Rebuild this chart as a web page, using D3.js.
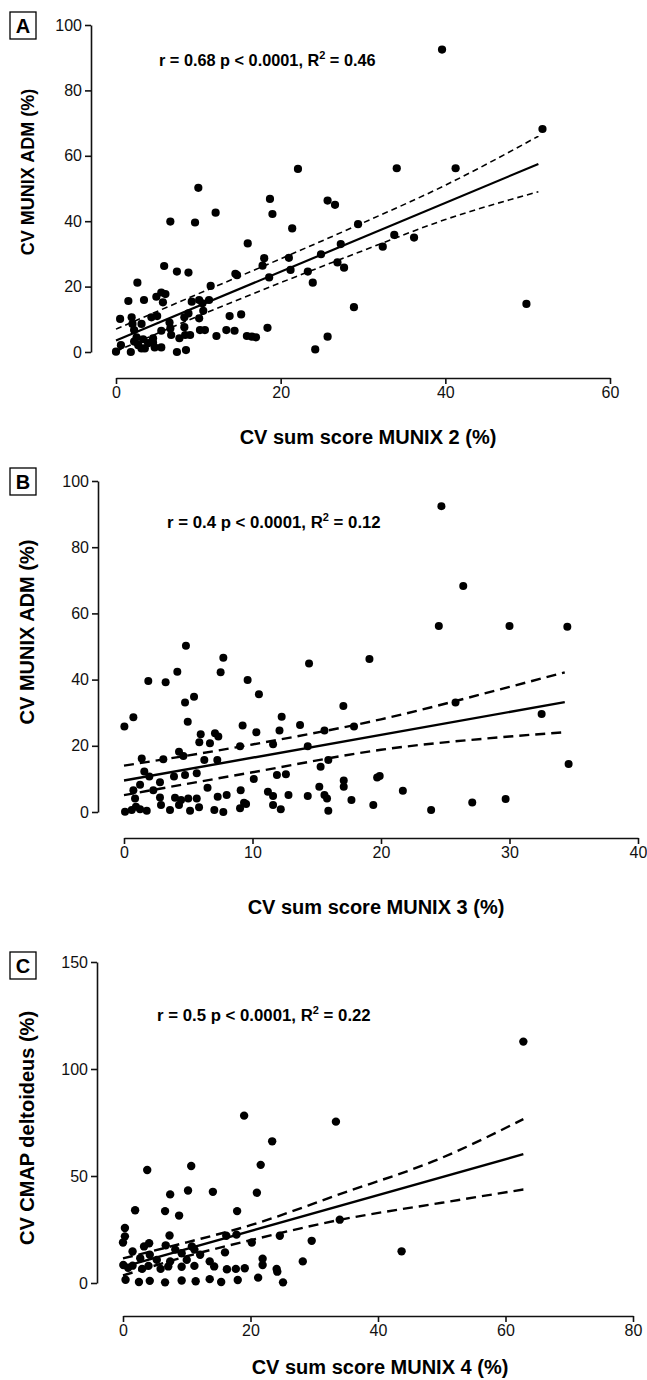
<!DOCTYPE html>
<html>
<head>
<meta charset="utf-8">
<script src="https://cdn.jsdelivr.net/npm/d3@7"></script>
<style>
  body { margin: 0; background: #fff; }
  svg { display: block; }
</style>
</head>
<body>
<div class="container"></div>
<script>
// ---- panel A: CV MUNIX ADM vs CV sum score MUNIX 2 ----
const aPoints = [
  [22.1,56.0],[10.0,50.2],[18.7,46.8],[19.0,42.2],[25.7,46.3],[26.6,45.0],[12.1,42.6],[6.6,39.9],
  [9.6,39.6],[21.4,37.8],[29.4,39.1],[16.0,33.2],[27.3,33.0],[24.9,29.9],[18.0,28.7],[17.8,26.4],
  [21.0,28.8],[26.9,27.4],[27.7,25.8],[21.2,25.1],[23.3,24.6],[18.6,22.8],[23.9,21.2],[28.9,13.7],
  [5.85,26.3],[7.4,24.6],[8.8,24.3],[2.6,21.2],[14.5,23.9],[14.7,23.5],[11.5,20.2],[5.5,18.2],
  [6.0,17.7],[4.9,16.9],[5.7,15.2],[1.5,15.6],[3.4,15.9],[9.2,15.4],[10.1,15.9],[10.5,14.9],
  [11.3,15.9],[10.6,12.6],[8.8,11.8],[10.1,10.3],[8.3,10.6],[4.3,10.6],[5.0,11.0],[0.5,10.1],
  [1.9,10.6],[13.8,11.0],[15.2,11.5],[6.5,9.0],[2.0,8.6],[3.1,8.6],[5.5,6.5],[6.6,7.2],
  [8.3,7.6],[10.2,6.7],[10.8,6.7],[13.4,6.7],[14.4,6.5],[18.4,7.4],[2.2,6.7],[6.7,5.2],
  [8.4,5.2],[9.0,5.2],[12.2,4.9],[15.9,4.9],[16.5,4.7],[17.0,4.5],[25.7,4.7],[2.5,4.5],
  [3.3,3.9],[4.5,4.2],[3.9,2.7],[2.7,2.1],[3.1,1.1],[3.5,1.1],[4.7,1.4],[5.5,1.4],
  [0.6,2.1],[0,0.1],[1.8,0],[7.4,0],[8.5,0.6],[24.2,0.8],[2.2,3.2],[7.7,4.2],[4.5,2.9],
  [51.8,68.2],[34.1,56.2],[41.25,56.2],[33.8,35.8],[32.4,32.2],[36.2,35.0],[49.85,14.7],[39.6,92.5]
];
const aXTicks = [0, 20, 40, 60];
const aYTicks = [0, 20, 40, 60, 80, 100];
const aFitX = [0, 51.3];
const aFitY = [3.5, 57.5];
const aBandX = [0, 10, 20, 30, 40, 51.3];
const aUpper = [7.0, 17.8, 28.5, 39.5, 51.0, 66.0];
const aLower = [0.2, 11.0, 21.2, 31.0, 40.5, 49.0];

// ---- panel B: CV MUNIX ADM vs CV sum score MUNIX 3 ----
const bPoints = [
  [4.82,50.2],[7.73,46.6],[7.52,42.2],[4.15,42.4],[1.89,39.6],[3.24,39.2],[9.62,39.9],[10.5,35.6],
  [14.4,44.9],[4.75,33.1],[5.45,34.8],[4.96,27.3],[0.73,28.6],[0.03,25.8],[17.07,32.0],[12.27,28.8],
  [9.23,26.1],[10.3,24.1],[12.1,24.6],[13.7,26.3],[15.6,24.6],[5.97,23.5],[7.08,23.8],[7.34,22.8],
  [5.86,21.1],[6.69,20.8],[9.03,19.9],[11.6,20.5],[14.3,19.9],[17.9,25.8],[1.38,16.2],[4.28,18.2],
  [4.62,16.9],[3.06,15.9],[6.25,15.7],[7.26,15.7],[15.9,15.7],[15.3,13.7],[1.58,12.2],[1.97,10.7],
  [2.8,9.0],[3.89,10.7],[4.75,11.2],[5.66,11.7],[10.1,10.0],[11.9,11.2],[12.6,11.4],[17.1,9.5],
  [17.1,7.6],[1.25,8.2],[0.73,6.6],[2.28,6.6],[6.5,7.3],[9.08,6.6],[11.2,6.1],[15.2,7.6],
  [0.86,4.1],[2.8,4.4],[3.97,4.3],[4.44,3.6],[5.0,4.1],[5.66,4.1],[7.29,4.6],[7.99,5.1],
  [11.6,4.8],[12.8,5.1],[14.3,4.8],[15.6,5.1],[15.8,4.1],[17.7,3.6],[9.34,2.8],[9.5,2.4],
  [2.88,2.1],[4.28,2.1],[5.84,1.4],[9.03,1.1],[11.6,2.1],[0.08,0.1],[0.6,0.6],[1.25,0.8],
  [1.77,0.4],[5.14,0.4],[7.03,0.6],[7.73,0],[12.2,0.8],[15.9,0.4],[0.93,1.6],[3.58,0.6],
  [24.7,92.4],[26.4,68.3],[24.5,56.2],[30.0,56.2],[34.5,56.0],[19.1,46.2],[25.8,33.1],[32.5,29.6],
  [34.6,14.5],[19.7,10.4],[19.9,10.9],[21.7,6.4],[19.4,2.1],[23.9,0.6],[27.1,2.9],[29.7,3.9]
];
const bXTicks = [0, 10, 20, 30, 40];
const bYTicks = [0, 20, 40, 60, 80, 100];
const bFitX = [0, 34.3];
const bFitY = [9.5, 33.2];
const bBandX = [0, 10, 20, 30, 34.3];
const bUpper = [14.0, 20.4, 28.0, 37.8, 42.2];
const bLower = [5.1, 12.0, 18.8, 22.8, 24.1];

// ---- panel C: CV CMAP deltoideus vs CV sum score MUNIX 4 ----
const cPoints = [
  [19.0,78.2],[33.4,75.4],[23.4,66.2],[3.8,52.8],[10.7,54.7],[21.6,55.2],[7.4,41.4],[10.2,43.2],
  [14.1,42.6],[21.0,42.2],[1.9,34.0],[6.6,33.6],[8.8,31.5],[17.9,33.6],[0.3,25.7],[0.3,21.8],
  [0,18.9],[1.5,14.7],[4.1,18.6],[3.3,17.1],[7.3,22.2],[6.7,17.6],[10.8,17.1],[16.2,22.1],
  [17.8,22.6],[20.2,18.9],[24.6,22.1],[29.6,19.7],[34.0,29.6],[16.0,14.3],[21.9,11.3],[28.2,10.1],
  [8.2,15.6],[9.2,13.9],[11.2,15.6],[12.1,13.2],[4.2,13.2],[2.7,11.6],[5.3,10.8],[7.4,10.1],
  [10.0,10.8],[13.6,10.1],[0.05,8.4],[1.5,8.1],[4.0,8.0],[7.1,7.75],[9.2,7.6],[11.2,8.0],
  [16.3,6.4],[17.7,6.6],[19.1,6.9],[24.1,6.6],[21.9,8.4],[14.3,7.75],[0.8,7.1],[3.0,6.6],
  [5.9,6.6],[62.8,112.8],[43.7,14.8],
  [0.4,1.5],[2.5,0.5],[4.2,1.0],[6.6,0.3],[9.2,1.2],[11.4,0.8],[13.6,1.8],[15.4,0.5],
  [18.0,1.4],[21.2,2.5],[24.2,5.3],[25.1,0.3]
];
const cXTicks = [0, 20, 40, 60, 80];
const cYTicks = [0, 50, 100, 150];
const cFitX = [0, 62.8];
const cFitY = [7.5, 60.2];
const cBandX = [0, 10, 20, 34, 50, 62.8];
const cUpper = [11.5, 19.0, 27.0, 41.5, 58.5, 76.6];
const cLower = [3.5, 12.5, 20.0, 29.5, 37.5, 43.7];

const width = 647;
const height = 1380;
const font = "'Liberation Sans', Arial, Helvetica, sans-serif";

const svg = d3.select(".container")
  .append("svg")
  .attr("width", width)
  .attr("height", height)
  .style("font-family", font);

// draws one scatter panel with its regression line and confidence band
function drawPanel(p) {
  const x = d3.scaleLinear().domain([0, p.xTicks[p.xTicks.length - 1]]).range(p.xRange);
  const y = d3.scaleLinear().domain([0, p.yTicks[p.yTicks.length - 1]]).range(p.yRange);
  const g = svg.append("g");

  // y axis, set a little left of the data
  const yAxis = g.append("g")
    .attr("transform", `translate(${p.yAxisX},0)`)
    .call(d3.axisLeft(y).tickValues(p.yTicks).tickSize(6).tickSizeOuter(0).tickPadding(3));
  // x axis, set below the data
  const xAxis = g.append("g")
    .attr("transform", `translate(0,${p.xAxisY})`)
    .call(d3.axisBottom(x).tickValues(p.xTicks).tickSize(6).tickSizeOuter(0).tickPadding(3));
  [yAxis, xAxis].forEach(ax => {
    ax.select(".domain").attr("stroke", "#111").attr("stroke-width", 1.6);
    ax.selectAll(".tick line").attr("stroke", "#111").attr("stroke-width", 1.6);
    ax.selectAll(".tick text")
      .attr("fill", "#111")
      .style("font-family", font)
      .style("font-size", "16px");
  });

  // points
  g.append("g")
    .selectAll("circle")
    .data(p.points)
    .join("circle")
    .attr("cx", d => x(d[0]))
    .attr("cy", d => y(d[1]))
    .attr("r", p.r)
    .attr("fill", "#000");

  // confidence band (dashed) and fit (solid)
  const band = d3.line().x((d, i) => x(p.bandX[i])).y(d => y(d)).curve(d3.curveMonotoneX);
  [p.upper, p.lower].forEach(arr => {
    g.append("path")
      .attr("d", band(arr))
      .attr("fill", "none")
      .attr("stroke", "#000")
      .attr("stroke-width", p.dashWidth)
      .attr("stroke-dasharray", p.dash);
  });
  g.append("path")
    .attr("d", d3.line()(p.fitX.map((v, i) => [x(v), y(p.fitY[i])])))
    .attr("fill", "none")
    .attr("stroke", "#000")
    .attr("stroke-width", p.fitWidth);

  // panel letter in a box
  g.append("rect")
    .attr("x", p.box[0]).attr("y", p.box[1])
    .attr("width", 26).attr("height", 27)
    .attr("fill", "none").attr("stroke", "#000").attr("stroke-width", 1.3);
  g.append("text")
    .attr("x", p.box[0] + 13).attr("y", p.box[1] + 21)
    .attr("text-anchor", "middle")
    .style("font-size", "20px").style("font-weight", "bold")
    .text(p.letter);

  // statistics line
  const st = g.append("text")
    .attr("x", p.stat[0]).attr("y", p.stat[1])
    .style("font-size", p.statSize).style("font-weight", "bold");
  st.append("tspan").text(p.statText[0]);
  st.append("tspan").attr("dy", -7).style("font-size", "11px").text("2");
  st.append("tspan").attr("dy", 7).text(p.statText[1]);

  // axis titles
  g.append("text")
    .attr("x", p.xTitle[0]).attr("y", p.xTitle[1])
    .attr("text-anchor", "middle")
    .style("font-size", "20px").style("font-weight", "bold")
    .text(p.xLabel);
  g.append("text")
    .attr("transform", `translate(${p.yTitle[0]},${p.yTitle[1]}) rotate(-90)`)
    .attr("text-anchor", "middle")
    .style("font-size", p.yTitleSize).style("font-weight", "bold")
    .text(p.yLabel);
}

drawPanel({
  letter: "A", box: [10, 12], points: aPoints,
  xTicks: aXTicks, yTicks: aYTicks, xRange: [116, 610], yRange: [352, 25],
  yAxisX: 91, xAxisY: 378,
  fitX: aFitX, fitY: aFitY, bandX: aBandX, upper: aUpper, lower: aLower,
  r: 4.1, fitWidth: 2.2, dashWidth: 1.6, dash: "6,4",
  stat: [159, 66], statSize: "16.3px", statText: ["r = 0.68 p < 0.0001, R", " = 0.46"],
  xLabel: "CV sum score MUNIX 2 (%)", xTitle: [368, 444],
  yLabel: "CV MUNIX ADM (%)", yTitle: [34, 172], yTitleSize: "18px"
});

drawPanel({
  letter: "B", box: [10, 468], points: bPoints,
  xTicks: bXTicks, yTicks: bYTicks, xRange: [124, 638], yRange: [812, 481],
  yAxisX: 98, xAxisY: 838,
  fitX: bFitX, fitY: bFitY, bandX: bBandX, upper: bUpper, lower: bLower,
  r: 4, fitWidth: 2.4, dashWidth: 2.4, dash: "10,6",
  stat: [167, 528], statSize: "16.8px", statText: ["r = 0.4 p < 0.0001, R", " = 0.12"],
  xLabel: "CV sum score MUNIX 3 (%)", xTitle: [376, 914],
  yLabel: "CV MUNIX ADM (%)", yTitle: [34, 632], yTitleSize: "20px"
});

drawPanel({
  letter: "C", box: [10, 952], points: cPoints,
  xTicks: cXTicks, yTicks: cYTicks, xRange: [123, 633], yRange: [1283, 962],
  yAxisX: 97, xAxisY: 1316,
  fitX: cFitX, fitY: cFitY, bandX: cBandX, upper: cUpper, lower: cLower,
  r: 4.2, fitWidth: 2.4, dashWidth: 2.4, dash: "10,6",
  stat: [157, 1021], statSize: "16.8px", statText: ["r = 0.5 p < 0.0001, R", " = 0.22"],
  xLabel: "CV sum score MUNIX 4 (%)", xTitle: [380, 1374],
  yLabel: "CV CMAP deltoideus (%)", yTitle: [34, 1128], yTitleSize: "20px"
});
</script>
</body>
</html>
